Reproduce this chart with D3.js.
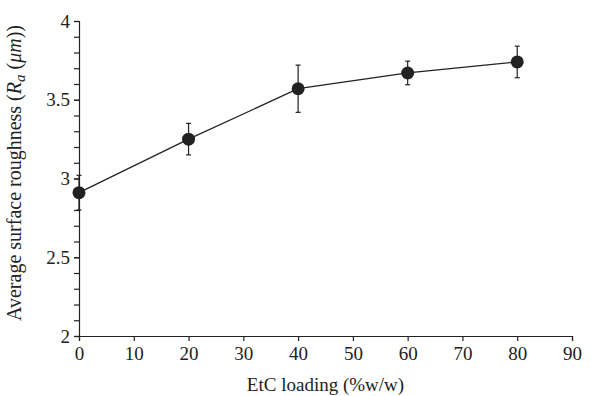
<!DOCTYPE html>
<html>
<head>
<meta charset="utf-8">
<script src="https://cdn.jsdelivr.net/npm/d3@7"></script>
<style>
	body { margin: 0; background: #fff; }
	text { font-family: "Liberation Serif", "DejaVu Serif", serif; fill: #222; }
</style>
</head>
<body>
<div id="chart"></div>
<script>
var loading = [0, 20, 40, 60, 80];
var roughness = [2.91, 3.25, 3.57, 3.67, 3.74];
var errors = [0.11, 0.1, 0.15, 0.075, 0.1];
var xTicks = [0, 10, 20, 30, 40, 50, 60, 70, 80, 90];
var yTicks = [2, 2.5, 3, 3.5, 4];

var WIDTH = 614;
var HEIGHT = 396;
var margin = { top: 21, right: 42, bottom: 60, left: 79 };
var plotWidth = WIDTH - margin.left - margin.right;
var plotHeight = HEIGHT - margin.top - margin.bottom;

var svg = d3.select("#chart").append("svg")
	.attr("width", WIDTH)
	.attr("height", HEIGHT);

var inner = svg.append("g")
	.attr("transform", `translate(${margin.left},${margin.top})`);

var xScale = d3.scaleLinear().domain([0, 90]).range([0, plotWidth]);
var yScale = d3.scaleLinear().domain([2, 4]).range([plotHeight, 0]);

// axes
var xAxis = inner.append("g")
	.attr("transform", `translate(0,${plotHeight})`)
	.call(d3.axisBottom(xScale).tickValues(xTicks).tickSize(5).tickPadding(6).tickFormat(d3.format("d")));

var yMinor = inner.append("g")
	.call(d3.axisLeft(yScale).tickValues(d3.range(2, 4.01, 0.1)).tickSize(5).tickFormat(""));

var yAxis = inner.append("g")
	.call(d3.axisLeft(yScale).tickValues(yTicks).tickSize(5).tickPadding(4).tickFormat(d => d));

[xAxis, yAxis, yMinor].forEach(function(g) {
	g.selectAll("path, line").attr("stroke", "#222").attr("stroke-width", 1.2);
	g.selectAll("text").style("font-size", "19px").attr("fill", "#222");
});
yMinor.select(".domain").remove();

// line
var line = d3.line()
	.x((d, i) => xScale(loading[i]))
	.y(d => yScale(d));

inner.append("path")
	.datum(roughness)
	.attr("fill", "none")
	.attr("stroke", "#222")
	.attr("stroke-width", 1.3)
	.attr("d", line);

// error bars
var bars = inner.selectAll(".err")
	.data(roughness)
	.join("g")
	.attr("class", "err")
	.attr("stroke", "#222")
	.attr("stroke-width", 1.2);

bars.append("line")
	.attr("x1", (d, i) => xScale(loading[i]))
	.attr("x2", (d, i) => xScale(loading[i]))
	.attr("y1", (d, i) => yScale(d + errors[i]))
	.attr("y2", (d, i) => yScale(d - errors[i]));

bars.append("line")
	.attr("x1", (d, i) => xScale(loading[i]) - 2.5)
	.attr("x2", (d, i) => xScale(loading[i]) + 2.5)
	.attr("y1", (d, i) => yScale(d + errors[i]))
	.attr("y2", (d, i) => yScale(d + errors[i]));

bars.append("line")
	.attr("x1", (d, i) => xScale(loading[i]) - 2.5)
	.attr("x2", (d, i) => xScale(loading[i]) + 2.5)
	.attr("y1", (d, i) => yScale(d - errors[i]))
	.attr("y2", (d, i) => yScale(d - errors[i]));

// markers
inner.selectAll(".dot")
	.data(roughness)
	.join("circle")
	.attr("class", "dot")
	.attr("cx", (d, i) => xScale(loading[i]))
	.attr("cy", d => yScale(d))
	.attr("r", 6.5)
	.attr("fill", "#222");

// labels
svg.append("text")
	.attr("x", margin.left + plotWidth / 2)
	.attr("y", 391)
	.attr("text-anchor", "middle")
	.style("font-size", "19px")
	.text("EtC loading (%w/w)");

var ylab = svg.append("text")
	.attr("transform", `translate(21,173) rotate(-90)`)
	.attr("text-anchor", "middle")
	.style("font-size", "20px");
ylab.append("tspan").text("Average surface roughness (");
ylab.append("tspan").style("font-style", "italic").text("R");
ylab.append("tspan").style("font-style", "italic").style("font-size", "15px").attr("dy", 4).text("a");
ylab.append("tspan").attr("dy", -4).text(" (");
ylab.append("tspan").style("font-style", "italic").text("μm");
ylab.append("tspan").text("))");
</script>
</body>
</html>
